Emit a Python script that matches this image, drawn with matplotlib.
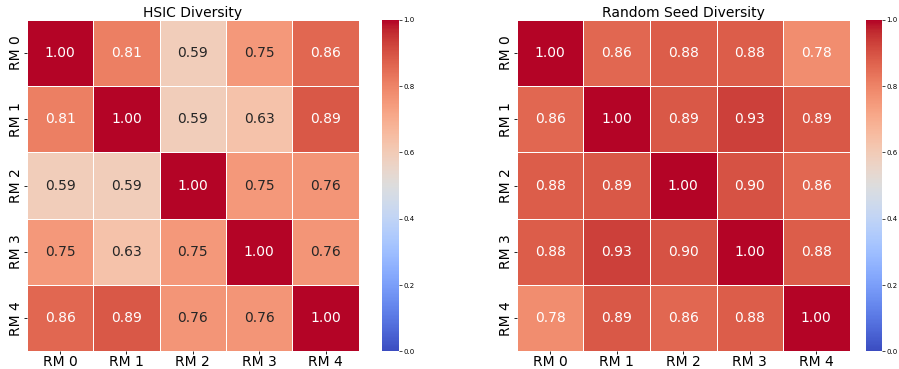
import numpy as np
import matplotlib
matplotlib.use("Agg")
import matplotlib.pyplot as plt
import seaborn as sns

labels = ["RM 0", "RM 1", "RM 2", "RM 3", "RM 4"]

hsic = np.array([
    [1.00, 0.81, 0.59, 0.75, 0.86],
    [0.81, 1.00, 0.59, 0.63, 0.89],
    [0.59, 0.59, 1.00, 0.75, 0.76],
    [0.75, 0.63, 0.75, 1.00, 0.76],
    [0.86, 0.89, 0.76, 0.76, 1.00],
])

seed = np.array([
    [1.00, 0.86, 0.88, 0.88, 0.78],
    [0.86, 1.00, 0.89, 0.93, 0.89],
    [0.88, 0.89, 1.00, 0.90, 0.86],
    [0.88, 0.93, 0.90, 1.00, 0.88],
    [0.78, 0.89, 0.86, 0.88, 1.00],
])

fig = plt.figure(figsize=(8.99, 3.69), dpi=100)

panels = [
    (hsic, "HSIC Diversity", [0.030, 0.048, 0.369, 0.898], [0.425, 0.048, 0.019, 0.898]),
    (seed, "Random Seed Diversity", [0.575, 0.048, 0.370, 0.898], [0.963, 0.048, 0.018, 0.898]),
]

for data, title, ax_pos, cb_pos in panels:
    ax = fig.add_axes(ax_pos)
    cax = fig.add_axes(cb_pos)
    sns.heatmap(data, ax=ax, cbar_ax=cax, cmap="coolwarm", vmin=0, vmax=1,
                annot=True, fmt=".2f", annot_kws={"size": 10},
                linewidths=0.6, linecolor="white",
                xticklabels=labels, yticklabels=labels)
    ax.set_title(title, fontsize=10, pad=2)
    ax.tick_params(axis="both", labelsize=10, length=2, width=0.6, pad=1)
    ax.set_yticklabels(labels, rotation=90, va="center")
    cax.tick_params(labelsize=5, length=2, width=0.5, pad=1)
    cax.set_yticks([0, 0.2, 0.4, 0.6, 0.8, 1.0])

fig.savefig("out.png", dpi=100)
